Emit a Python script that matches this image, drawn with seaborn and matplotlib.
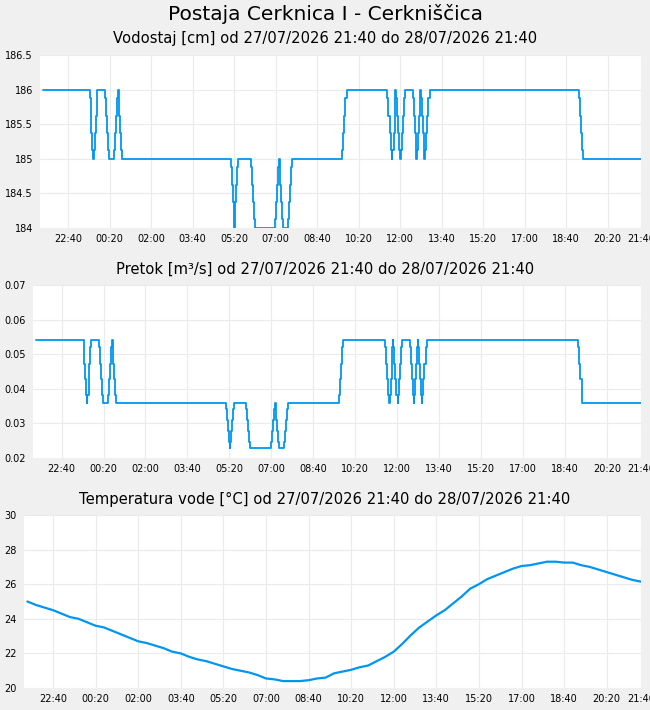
import pandas as pd
import matplotlib
matplotlib.use("Agg")
import matplotlib.pyplot as plt
import matplotlib.dates as mdates
from matplotlib.ticker import FuncFormatter
import seaborn as sns

# Vodostaj (cm): minute od 27/07/2026 21:40 in vrednost (stopnicasto)
level_minutes = [0, 112.4, 114, 115.5, 118, 120.4, 121.3, 124.5, 126, 128.6, 130,
                 149.3, 151.7, 153.4, 156.5, 159, 171, 173.4, 175, 177.5, 180,
                 181.6, 183, 184.8, 187.2, 190.3,
                 451.8, 454.2, 456.6, 459, 460.5, 461.5, 462.9, 465.3, 467.7, 470.1,
                 500, 502.4, 504.8, 507.3, 509.7, 558.6, 561, 563.4, 565.9, 569,
                 570, 571.4, 573.8, 576.2, 578.6, 590.7, 593.1, 595.5, 597.9, 600.4,
                 721, 723.4, 725.8, 728.2, 731.6,
                 829.5, 831.9, 835.3, 838.4, 840.1, 841.5, 844, 846.4, 848, 848.8,
                 850, 852, 854.5, 857, 860.8, 862, 864, 866.5, 868.5, 870.5,
                 890.7, 893.2, 895.6, 898, 899.4, 900.6, 902.5, 905, 907.3, 909,
                 910.2, 912.5, 914.8, 917, 918.7, 919.9, 922, 924.5, 927.5, 930.8,
                 1290.2, 1292.6, 1296, 1299.1, 1300.8, 1440]
level_cm = [186, 185.875, 185.625, 185.375, 185.125, 185, 185.125, 185.375, 185.625, 185.875, 186,
            185.875, 185.625, 185.375, 185.125, 185, 185.125, 185.375, 185.625, 185.875, 186,
            185.875, 185.625, 185.375, 185.125, 185,
            184.875, 184.625, 184.375, 184.125, 184, 184.125, 184.375, 184.625, 184.875, 185,
            184.875, 184.625, 184.375, 184.125, 184, 184.125, 184.375, 184.625, 184.875, 185,
            184.875, 184.625, 184.375, 184.125, 184, 184.125, 184.375, 184.625, 184.875, 185,
            185.125, 185.375, 185.625, 185.875, 186,
            185.875, 185.625, 185.375, 185.125, 185, 185.125, 185.375, 185.625, 185.875, 186,
            185.875, 185.625, 185.375, 185.125, 185, 185.125, 185.375, 185.625, 185.875, 186,
            185.875, 185.625, 185.375, 185.125, 185, 185.125, 185.375, 185.625, 185.875, 186,
            185.875, 185.625, 185.375, 185.125, 185, 185.125, 185.375, 185.625, 185.875, 186,
            185.875, 185.625, 185.375, 185.125, 185, 185]

# pretok (m3/s) za posamezen vodostaj, odcitano z grafa
rating = {186: 0.0542, 185.875: 0.0520, 185.625: 0.0473, 185.375: 0.0427,
          185.125: 0.0381, 185: 0.0359, 184.875: 0.0343, 184.625: 0.0310,
          184.375: 0.0277, 184.125: 0.0245, 184: 0.0229}
flow_m3s = [rating[v] for v in level_cm]

# Temperatura vode (°C), vsakih 20 minut
temp_minutes = list(range(0, 1441, 20))
temp_c = [25.0, 24.8, 24.65, 24.5, 24.3, 24.1, 24.0, 23.8, 23.6, 23.5,
          23.3, 23.1, 22.9, 22.7, 22.6, 22.45, 22.3, 22.1, 22.0, 21.8,
          21.65, 21.55, 21.4, 21.25, 21.1, 21.0, 20.9, 20.75, 20.55, 20.5,
          20.4, 20.4, 20.4, 20.45, 20.55, 20.6, 20.85, 20.95, 21.05, 21.2,
          21.3, 21.55, 21.8, 22.1, 22.55, 23.05, 23.5, 23.85, 24.2, 24.5,
          24.9, 25.3, 25.75, 26.0, 26.3, 26.5, 26.7, 26.9, 27.05, 27.1,
          27.2, 27.3, 27.3, 27.25, 27.25, 27.1, 27.0, 26.85, 26.7, 26.55,
          26.4, 26.25, 26.15]

start = pd.Timestamp("2026-07-27 21:40")
end = pd.Timestamp("2026-07-28 21:40")

df_level = pd.DataFrame({
    "cas": start + pd.to_timedelta(level_minutes, unit="min"),
    "vodostaj": level_cm,
    "pretok": flow_m3s,
})
df_temp = pd.DataFrame({
    "cas": start + pd.to_timedelta(temp_minutes, unit="min"),
    "temp": temp_c,
})

sns.set_style("whitegrid", {
    "axes.facecolor": "white",
    "grid.color": "#ebebeb",
    "axes.edgecolor": "white",
    "text.color": "black",
})
plt.rcParams["font.family"] = ["DejaVu Sans"]
plt.rcParams["text.color"] = "black"

W, H = 650, 710
fig = plt.figure(figsize=(6.5, 7.1), dpi=100, facecolor="#f0f0f0")

line_color = "#0096f0"
ticks = list(pd.date_range("2026-07-27 22:40", periods=14, freq="100min")) + [end]

def px_axes(left, top, right, bottom):
    return fig.add_axes([left / W, 1 - bottom / H, (right - left) / W, (bottom - top) / H])

def style_axes(ax, ylim, yticks):
    ax.set_xlim(start - pd.Timedelta(minutes=8), end + pd.Timedelta(minutes=0.5))
    ax.set_ylim(*ylim)
    ax.set_yticks(yticks)
    ax.set_xticks(ticks)
    ax.xaxis.set_major_formatter(mdates.DateFormatter("%H:%M"))
    ax.yaxis.set_major_formatter(FuncFormatter(lambda v, p: f"{v:g}"))
    ax.tick_params(axis="both", length=0, labelsize=7, colors="black")
    ax.tick_params(axis="x", pad=4.5)
    ax.tick_params(axis="y", pad=5)
    ax.grid(True, color="#ebebeb", linewidth=0.8)
    for s in ax.spines.values():
        s.set_visible(False)
    ax.set_xlabel("")
    ax.set_ylabel("")

# Vodostaj
ax1 = px_axes(40, 55, 641, 228)
sns.lineplot(data=df_level, x="cas", y="vodostaj", ax=ax1, color=line_color,
             linewidth=1.3, estimator=None, sort=False, drawstyle="steps-post")
style_axes(ax1, (184, 186.5), [184, 184.5, 185, 185.5, 186, 186.5])

# Pretok
ax2 = px_axes(33, 285, 641, 458)
sns.lineplot(data=df_level, x="cas", y="pretok", ax=ax2, color=line_color,
             linewidth=1.3, estimator=None, sort=False, drawstyle="steps-post")
style_axes(ax2, (0.02, 0.07), [0.02, 0.03, 0.04, 0.05, 0.06, 0.07])

# Temperatura
ax3 = px_axes(24, 515, 641, 688)
sns.lineplot(data=df_temp, x="cas", y="temp", ax=ax3, color=line_color,
             linewidth=1.6, estimator=None, sort=False)
style_axes(ax3, (20, 30), [20, 22, 24, 26, 28, 30])

fig.text(0.5, 1 - 14 / H, "Postaja Cerknica I - Cerkniščica", ha="center", va="center",
         fontsize=14.5, color="black")
obdobje = "od 27/07/2026 21:40 do 28/07/2026 21:40"
for y, naslov in [(39, "Vodostaj [cm]"), (269, "Pretok [m³/s]"), (499, "Temperatura vode [°C]")]:
    fig.text(0.5, 1 - y / H, f"{naslov} {obdobje}", ha="center", va="center",
             fontsize=10.6, color="black")

fig.savefig("out.png", dpi=100, facecolor=fig.get_facecolor())
